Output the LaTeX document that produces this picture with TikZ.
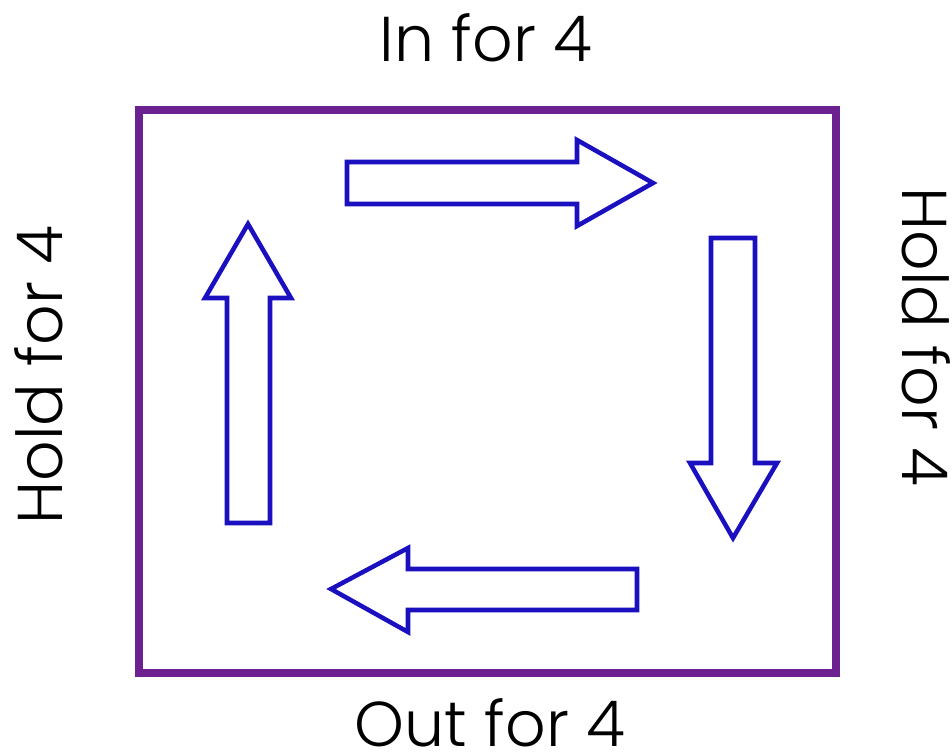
\documentclass[tikz,border=0pt]{standalone}
\usepackage{fontspec}
\setmainfont{Poppins}[UprightFont={* Light}]
\definecolor{boxpurple}{HTML}{6B2190}
\definecolor{arrblue}{HTML}{1A10C0}
\begin{document}
\begin{tikzpicture}[x=0.75pt,y=-0.75pt,
  frame/.style={draw=boxpurple,line width=6.5pt},
  blockarrow/.style={draw=arrblue,line width=3.4pt,fill=white,line join=miter},
  lbl/.style={font=\fontsize{47.5}{54}\selectfont,inner sep=0pt,anchor=base}]
\useasboundingbox (0,0) rectangle (952,751);
% frame
\draw[frame] (139,110) rectangle (836,673);
% right arrow (top)
\draw[blockarrow] (347,162) -- (577,162) -- (577,140) -- (653,183) -- (577,226) -- (577,204) -- (347,204) -- cycle;
% down arrow (right)
\draw[blockarrow] (711,238) -- (755,238) -- (755,463) -- (777,463) -- (733,538) -- (690,463) -- (711,463) -- cycle;
% left arrow (bottom)
\draw[blockarrow] (637,569) -- (637,610) -- (408,610) -- (408,632) -- (331,589) -- (408,548) -- (408,569) -- cycle;
% up arrow (left)
\draw[blockarrow] (227,523) -- (270,523) -- (270,298) -- (291,298) -- (248,224) -- (205,298) -- (227,298) -- cycle;
% labels
\node[lbl] (in) at (486,61) {In for 4};
\node[lbl] (out) at (490,746) {Out for 4};
\node[lbl,rotate=90] (holdl) at (62,375) {Hold for 4};
\node[lbl,rotate=-90] (holdr) at (902,337) {Hold for 4};
\end{tikzpicture}
\end{document}
